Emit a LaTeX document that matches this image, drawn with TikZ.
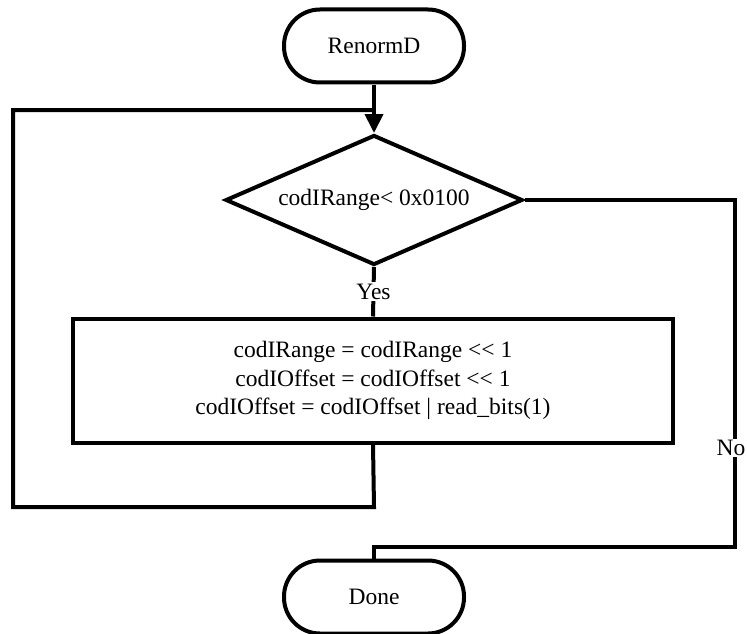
\documentclass[tikz,border=0pt]{standalone}
\usepackage{fontspec}
\setmainfont{Liberation Serif}
\usetikzlibrary{shapes.geometric,arrows.meta}
\begin{document}
\begin{tikzpicture}[x=1pt,y=-1pt,
  every node/.style={font=\fontsize{23.5}{28.5}\selectfont},
  flow/.style={line width=4pt,line join=miter},
  term/.style={draw,line width=4pt,rounded corners=36pt,minimum width=180pt,minimum height=73pt,inner sep=0pt},
  decision/.style={draw,line width=4pt,diamond,aspect=2.28,minimum width=297pt,minimum height=130pt,inner sep=0pt},
  process/.style={draw,line width=4pt,minimum width=600pt,minimum height=124pt,align=center,inner sep=0pt},
  lbl/.style={fill=white,inner sep=1.5pt}]
\useasboundingbox (0,0) rectangle (747,634);
\node[term] (start) at (374,46) {RenormD};
\node[decision] (dec) at (374,200) {codIRange< 0x0100};
\node[process] (box) at (373,380.5) {codIRange = codIRange <{}< 1\\codIOffset = codIOffset <{}< 1\\codIOffset = codIOffset | read\_bits(1)};
\node[term] (done) at (374,597) {Done};
\coordinate (lb) at (374,507);
\coordinate (lbl) at (13,507);
\coordinate (ltl) at (13,110);
\coordinate (lj) at (374,110);
\coordinate (rt) at (735,200);
\coordinate (rb) at (735,547);
\coordinate (db) at (374,547);
\draw[flow,-{Triangle[width=18pt,length=19pt]}] (start.south) -- (dec.north);
\draw[flow] (box.south) -- (lb) -- (lbl) -- (ltl) -- (lj);
\draw[flow] (dec.south) -- node[lbl] (yes) {Yes} (box.north);
\draw[flow] (dec.east) -- (rt) -- (rb) -- (db) -- (done.north);
\node[lbl] (no) at (731,448) {No};
\end{tikzpicture}
\end{document}
